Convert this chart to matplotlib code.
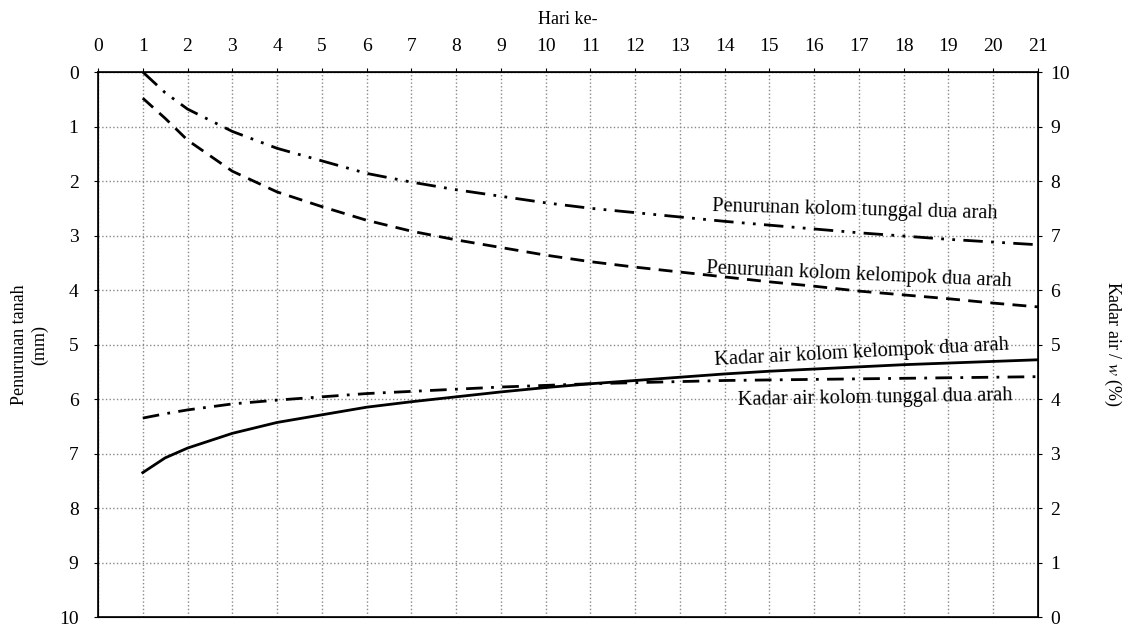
import matplotlib
matplotlib.use('Agg')
import matplotlib.pyplot as plt

plt.rcParams['font.family'] = ['Liberation Serif', 'DejaVu Serif']
plt.rcParams['mathtext.fontset'] = 'stix'

# hari ke- (day)
hari = [1, 1.5, 2, 3, 4, 5, 6, 7, 8, 9, 10, 11, 12, 13, 14, 15, 16, 17, 18, 19, 20, 21]

# penurunan tanah (mm), sumbu kiri
pen_tunggal = [0.00, 0.38, 0.68, 1.09, 1.40, 1.63, 1.86, 2.02, 2.16, 2.28, 2.40, 2.50,
               2.58, 2.66, 2.74, 2.81, 2.88, 2.95, 3.01, 3.07, 3.12, 3.17]
pen_kelompok = [0.48, 0.85, 1.25, 1.82, 2.20, 2.47, 2.72, 2.92, 3.08, 3.22, 3.36, 3.48,
                3.58, 3.67, 3.76, 3.85, 3.93, 4.02, 4.09, 4.16, 4.24, 4.31]

# kadar air w (%), sumbu kanan
ka_kelompok = [2.65, 2.92, 3.10, 3.37, 3.57, 3.71, 3.85, 3.95, 4.04, 4.13, 4.21, 4.28,
               4.34, 4.40, 4.46, 4.51, 4.55, 4.59, 4.63, 4.66, 4.69, 4.72]
ka_tunggal = [3.65, 3.73, 3.80, 3.91, 3.98, 4.04, 4.10, 4.14, 4.18, 4.22, 4.25, 4.28,
              4.30, 4.32, 4.34, 4.35, 4.36, 4.37, 4.38, 4.39, 4.40, 4.41]

fig = plt.figure(figsize=(11.24, 6.30), dpi=100)
ax = fig.add_axes([0.0872, 0.0206, 0.8363, 0.8651])
ax2 = ax.twinx()

lw = 2
ax.plot(hari, pen_tunggal, color='black', lw=lw, linestyle=(0, (7, 3, 1, 3, 1, 3)))
ax.plot(hari, pen_kelompok, color='black', lw=lw, linestyle=(0, (5, 3)))
ax2.plot(hari, ka_kelompok, color='black', lw=lw, linestyle='-')
ax2.plot(hari, ka_tunggal, color='black', lw=lw, linestyle=(0, (6, 3, 1, 3)))

ax.set_xlim(0, 21)
ax.set_ylim(10, 0)
ax2.set_ylim(0, 10)
ax.set_xticks(range(0, 22))
ax.set_yticks(range(0, 11))
ax2.set_yticks(range(0, 11))

ax.xaxis.tick_top()
ax.xaxis.set_label_position('top')
ax.set_xlabel('Hari ke-', fontsize=13, labelpad=10)
ax.set_ylabel('Penurunan tanah\n(mm)', fontsize=13, labelpad=8)
ax2.set_ylabel('Kadar air / $w$ (%)', fontsize=13, rotation=270, labelpad=38)

ax.tick_params(axis='x', length=3, labelsize=14, pad=9)
ax.tick_params(axis='y', length=3, labelsize=14, pad=11)
ax2.tick_params(axis='y', length=3, labelsize=14, pad=6)

ax.grid(True, color='#888888', linestyle=':', lw=1)
for sp in ax.spines.values():
    sp.set_linewidth(1.2)

ax.text(16.9, 2.53, 'Penurunan kolom tunggal dua arah', fontsize=14.7,
        ha='center', va='center', rotation=-1.5)
ax.text(17.0, 3.72, 'Penurunan kolom kelompok dua arah', fontsize=14.7,
        ha='center', va='center', rotation=-2.5)
ax.text(17.07, 5.16, 'Kadar air kolom kelompok dua arah', fontsize=14.7,
        ha='center', va='center', rotation=3)
ax.text(17.36, 5.98, 'Kadar air kolom tunggal dua arah', fontsize=14.7,
        ha='center', va='center', rotation=1)

fig.savefig('out.png', dpi=100)
